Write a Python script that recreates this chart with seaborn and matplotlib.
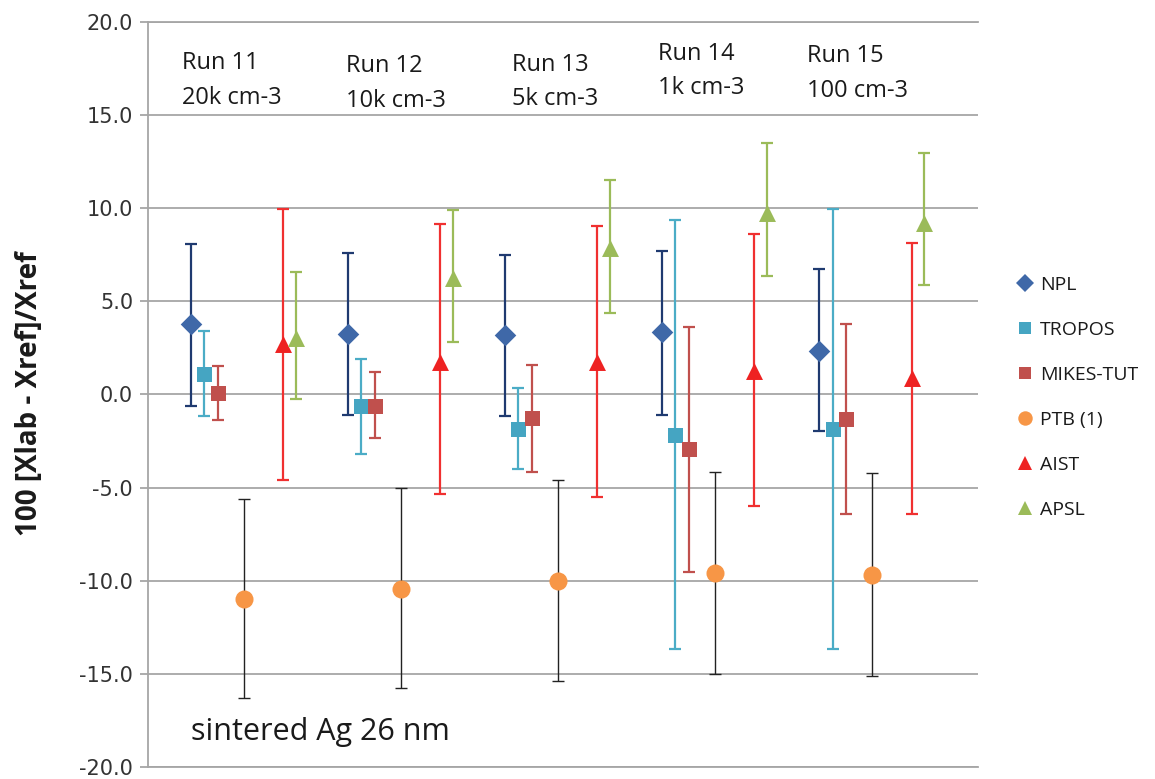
import numpy as np
import pandas as pd
import matplotlib
matplotlib.use("Agg")
import matplotlib.pyplot as plt
import seaborn as sns
from matplotlib.lines import Line2D
from matplotlib.ticker import FormatStrFormatter

# ---------------- data ----------------
runs = ["Run 11", "Run 12", "Run 13", "Run 14", "Run 15"]
densities = ["20k cm-3", "10k cm-3", "5k cm-3", "1k cm-3", "100 cm-3"]
labs = ["NPL", "TROPOS", "MIKES-TUT", "PTB (1)", "AIST", "APSL"]

npl_val = [3.81, 3.24, 3.17, 3.33, 2.35]
npl_hi = [8.09, 7.61, 7.50, 7.70, 6.72]
npl_lo = [-0.63, -1.09, -1.14, -1.09, -1.98]

tropos_val = [1.11, -0.64, -1.85, -2.16, -1.84]
tropos_hi = [3.41, 1.91, 0.34, 9.36, 9.98]
tropos_lo = [-1.14, -3.22, -4.01, -13.65, -13.65]

mikes_val = [0.07, -0.61, -1.25, -2.92, -1.30]
mikes_hi = [1.51, 1.19, 1.57, 3.65, 3.81]
mikes_lo = [-1.35, -2.34, -4.14, -9.55, -6.43]

ptb_val = [-10.98, -10.45, -10.00, -9.61, -9.71]
ptb_hi = [-5.61, -5.04, -4.60, -4.17, -4.24]
ptb_lo = [-16.29, -15.76, -15.40, -14.99, -15.12]

aist_val = [2.71, 1.73, 1.73, 1.25, 0.87]
aist_hi = [9.98, 9.18, 9.07, 8.63, 8.14]
aist_lo = [-4.60, -5.33, -5.52, -5.99, -6.43]

apsl_val = [3.06, 6.27, 7.88, 9.75, 9.21]
apsl_hi = [6.59, 9.88, 11.53, 13.49, 12.98]
apsl_lo = [-0.25, 2.83, 4.39, 6.35, 5.88]

values = [npl_val, tropos_val, mikes_val, ptb_val, aist_val, apsl_val]
highs = [npl_hi, tropos_hi, mikes_hi, ptb_hi, aist_hi, apsl_hi]
lows = [npl_lo, tropos_lo, mikes_lo, ptb_lo, aist_lo, apsl_lo]

# ---------------- style / layout ----------------
offsets = [0.0, 0.085, 0.172, 0.337, 0.588, 0.670]
markers = ["D", "s", "s", "o", "^", "^"]
msizes = [11.0, 10.8, 10.8, 13.0, 12.2, 12.2]
mcolors = ["#3F68A8", "#45A5C2", "#C0504D", "#F79646", "#EE2222", "#9BBB59"]
ecolors = ["#1F3A70", "#4BACC6", "#C0504D", "#222222", "#F03030", "#9BBB59"]
elws = [1.6, 1.6, 1.6, 1.0, 1.6, 1.6]

rows = []
for li, lab in enumerate(labs):
    for ri, run in enumerate(runs):
        rows.append(dict(lab=lab, run=run, x=ri + offsets[li],
                         value=values[li][ri], lo=lows[li][ri], hi=highs[li][ri]))
df = pd.DataFrame(rows)

sns.set_theme(style="white")
plt.rcParams["font.family"] = ["Open Sans", "DejaVu Sans"]

W, H = 1155, 779
fig = plt.figure(figsize=(W / 100, H / 100), dpi=100)
ax = fig.add_axes([148 / W, 12 / H, 830 / W, 745 / H])

for li, lab in enumerate(labs):
    d = df[df["lab"] == lab]
    ax.errorbar(d["x"], d["value"], yerr=[d["value"] - d["lo"], d["hi"] - d["value"]],
                fmt="none", ecolor=ecolors[li], elinewidth=elws[li],
                capsize=4, capthick=elws[li], zorder=3)
    sns.scatterplot(data=d, x="x", y="value", marker=markers[li], color=mcolors[li],
                    s=msizes[li] ** 2, linewidth=0, ax=ax, zorder=4, legend=False)

ax.set_ylim(-20, 20)
ax.set_xlim(-0.272, 5.011)
ax.set_yticks(np.arange(-20, 21, 5))
ax.yaxis.set_major_formatter(FormatStrFormatter("%.1f"))
ax.set_xticks([])
ax.set_xlabel("")
ax.set_ylabel("")
gridc = "#A6A6A6"
ax.yaxis.grid(True, color=gridc, lw=1.3)
ax.set_axisbelow(True)
for s in ["top", "bottom", "left"]:
    ax.spines[s].set_visible(True)
    ax.spines[s].set_color(gridc)
    ax.spines[s].set_linewidth(1.3)
ax.spines["right"].set_visible(False)
ax.tick_params(axis="y", direction="out", length=5.8, width=1.3, color=gridc,
               labelsize=15, labelcolor="#333333", pad=5, left=True)
for t in ax.get_yticklabels():
    t.set_family("DejaVu Sans")

# run annotations
run_pos = [(181.7, 80.8), (346, 83.7), (511.7, 82.0), (657.7, 71.0), (806.7, 73.3)]
for (px, py), run, dens in zip(run_pos, runs, densities):
    fig.text(px / W, 1 - py / H, f"{run}\n{dens}", ha="left", va="center",
             fontsize=17, color="#1a1a1a", linespacing=1.6)

fig.text(191 / W, 1 - 732 / H, "sintered Ag 26 nm", ha="left", va="center",
         fontsize=22, color="#1a1a1a")

fig.text(30 / W, 1 - 394 / H, "100 [Xlab - Xref]/Xref", rotation=90,
         ha="center", va="center", fontsize=20, fontweight="bold", color="#1a1a1a")

handles = [Line2D([0], [0], marker=m, color="none", markerfacecolor=c,
                  markeredgewidth=0, markersize=ms * 0.8)
           for m, c, ms in zip(markers, mcolors, msizes)]
fig.legend(handles, labs, loc="upper left", bbox_to_anchor=(1015 / W, 1 - 276 / H),
           frameon=False, fontsize=14, labelspacing=1.39, handlelength=1.0,
           handletextpad=0.3, borderpad=0, borderaxespad=0, labelcolor="#1a1a1a")

fig.savefig("out.png", dpi=100)
